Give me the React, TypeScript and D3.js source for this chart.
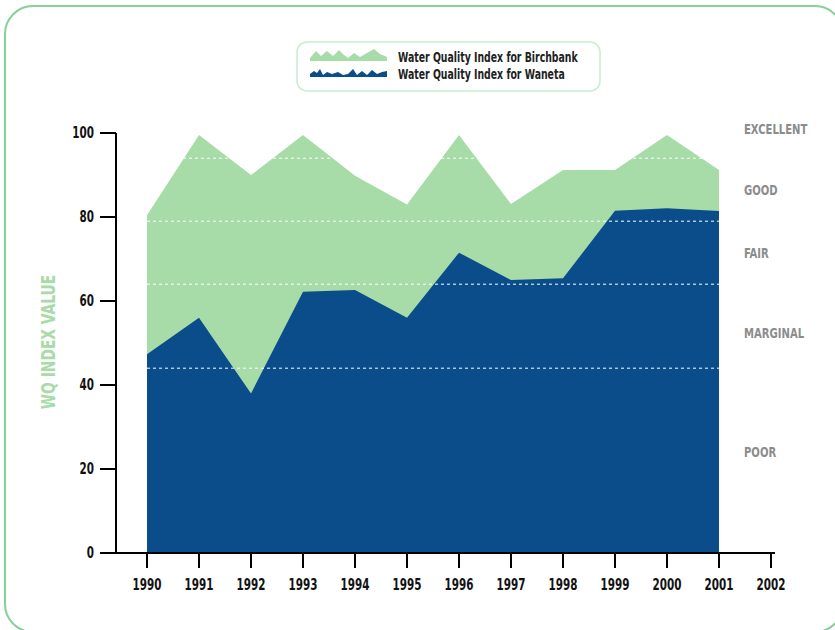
import React from "react";
import * as d3 from "d3";

const years = [1990, 1991, 1992, 1993, 1994, 1995, 1996, 1997, 1998, 1999, 2000, 2001];
const birchbank = [80.4, 99.5, 90, 99.5, 89.8, 83, 99.5, 83.1, 91.2, 91.2, 99.5, 91.2];
const waneta = [47.3, 56, 38, 62.2, 62.6, 56, 71.5, 65, 65.4, 81.5, 82.1, 81.4];
const axisYears = [1990, 1991, 1992, 1993, 1994, 1995, 1996, 1997, 1998, 1999, 2000, 2001, 2002];
const yTicks = [0, 20, 40, 60, 80, 100];
const thresholds = [94, 79, 64, 44];
const ratingNames = ["EXCELLENT", "GOOD", "FAIR", "MARGINAL", "POOR"];
const ratingPos = [101, 86.5, 71.5, 52.5, 24];
const legendNames = ["Water Quality Index for Birchbank", "Water Quality Index for Waneta"];

const GREEN = "#a7dba7";
const BLUE = "#0b4c8b";
const FRAME = "#86d09a";
const GRAY = "#8c8c8c";
const FONT = "'DejaVu Sans Condensed', 'DejaVu Sans', sans-serif";
const SX = 0.77;

// decorative mountain icons for legend (relative shapes)
const iconGreen: [number, number][] = [[0, 12], [0, 9], [6, 2], [11, 7], [17, 2], [23, 7], [29, 1], [34, 6], [38, 9], [44, 4], [50, 8], [57, 4], [64, 0], [70, 5], [77, 8], [77, 12]];
const iconBlue: [number, number][] = [[0, 8], [0, 5], [4, 2], [7, 4], [10, 0], [13, 6], [17, 3], [22, 5], [28, 3], [33, 6], [38, 5], [43, 0], [47, 6], [52, 2], [57, 6], [62, 1], [67, 5], [72, 3], [77, 2], [77, 8]];

function T(props: {
  x: number;
  y: number;
  size: number;
  fill: string;
  anchor?: string;
  dy?: string;
  rotate?: number;
  children: React.ReactNode;
}) {
  const { x, y, size, fill, anchor = "start", dy, rotate = 0, children } = props;
  return (
    <text
      transform={`translate(${x},${y}) rotate(${rotate}) scale(${SX},1)`}
      textAnchor={anchor}
      dy={dy}
      fontSize={size}
      fontWeight="bold"
      fill={fill}
    >
      {children}
    </text>
  );
}

export default function App() {
  const x = d3.scaleLinear().domain([1990, 2002]).range([147, 771]);
  const y = d3.scaleLinear().domain([0, 100]).range([553, 133]);

  const area = d3
    .area<number>()
    .x((_, i) => x(years[i]))
    .y0(y(0))
    .y1((d) => y(d));

  const iconLine = d3.line<[number, number]>();

  return (
    <svg
      width={835}
      height={630}
      style={{ position: "absolute", left: 0, top: 0, background: "#fff" }}
      fontFamily={FONT}
    >
      <rect x={5} y={6} width={838} height={626} rx={28} ry={28} fill="none" stroke={FRAME} strokeWidth={2} />

      {/* legend */}
      <rect x={297} y={42} width={303} height={49} rx={10} ry={10} fill="#fff" stroke="#c9ebcf" strokeWidth={1.5} />
      <path d={iconLine(iconGreen) + "Z"} transform="translate(310,49)" fill={GREEN} />
      <path d={iconLine(iconBlue) + "Z"} transform="translate(310,69)" fill={BLUE} />
      <T x={398} y={62} size={13.5} fill="#222">{legendNames[0]}</T>
      <T x={398} y={79} size={13.5} fill="#222">{legendNames[1]}</T>

      {/* areas */}
      <path d={area(birchbank) || ""} fill={GREEN} />
      <path d={area(waneta) || ""} fill={BLUE} />

      {/* threshold dashed lines */}
      {thresholds.map((t) => (
        <line
          key={t}
          x1={x(1990)}
          x2={x(2001)}
          y1={y(t)}
          y2={y(t)}
          stroke="#fff"
          strokeWidth={1}
          strokeDasharray="3,3"
        />
      ))}

      {/* y axis */}
      <line x1={116} x2={116} y1={y(100)} y2={y(0)} stroke="#000" strokeWidth={2} />
      {yTicks.map((t) => (
        <g key={t}>
          <line x1={100} x2={116} y1={y(t)} y2={y(t)} stroke="#000" strokeWidth={2} />
          <T x={94} y={y(t)} dy="0.36em" anchor="end" size={15} fill="#111">
            {t}
          </T>
        </g>
      ))}

      {/* x axis */}
      <line x1={100} x2={775} y1={y(0)} y2={y(0)} stroke="#000" strokeWidth={2} />
      {axisYears.map((yr) => (
        <g key={yr}>
          <line x1={x(yr)} x2={x(yr)} y1={y(0)} y2={y(0) + 15} stroke="#000" strokeWidth={2} />
          <T x={x(yr)} y={590} anchor="middle" size={15} fill="#111">
            {yr}
          </T>
        </g>
      ))}

      {/* y label */}
      <T x={55} y={342} rotate={-90} anchor="middle" size={20} fill={GREEN}>
        WQ INDEX VALUE
      </T>

      {/* rating labels */}
      {ratingNames.map((r, i) => (
        <T key={r} x={744} y={y(ratingPos[i])} dy="0.36em" size={14.5} fill={GRAY}>
          {r}
        </T>
      ))}
    </svg>
  );
}
